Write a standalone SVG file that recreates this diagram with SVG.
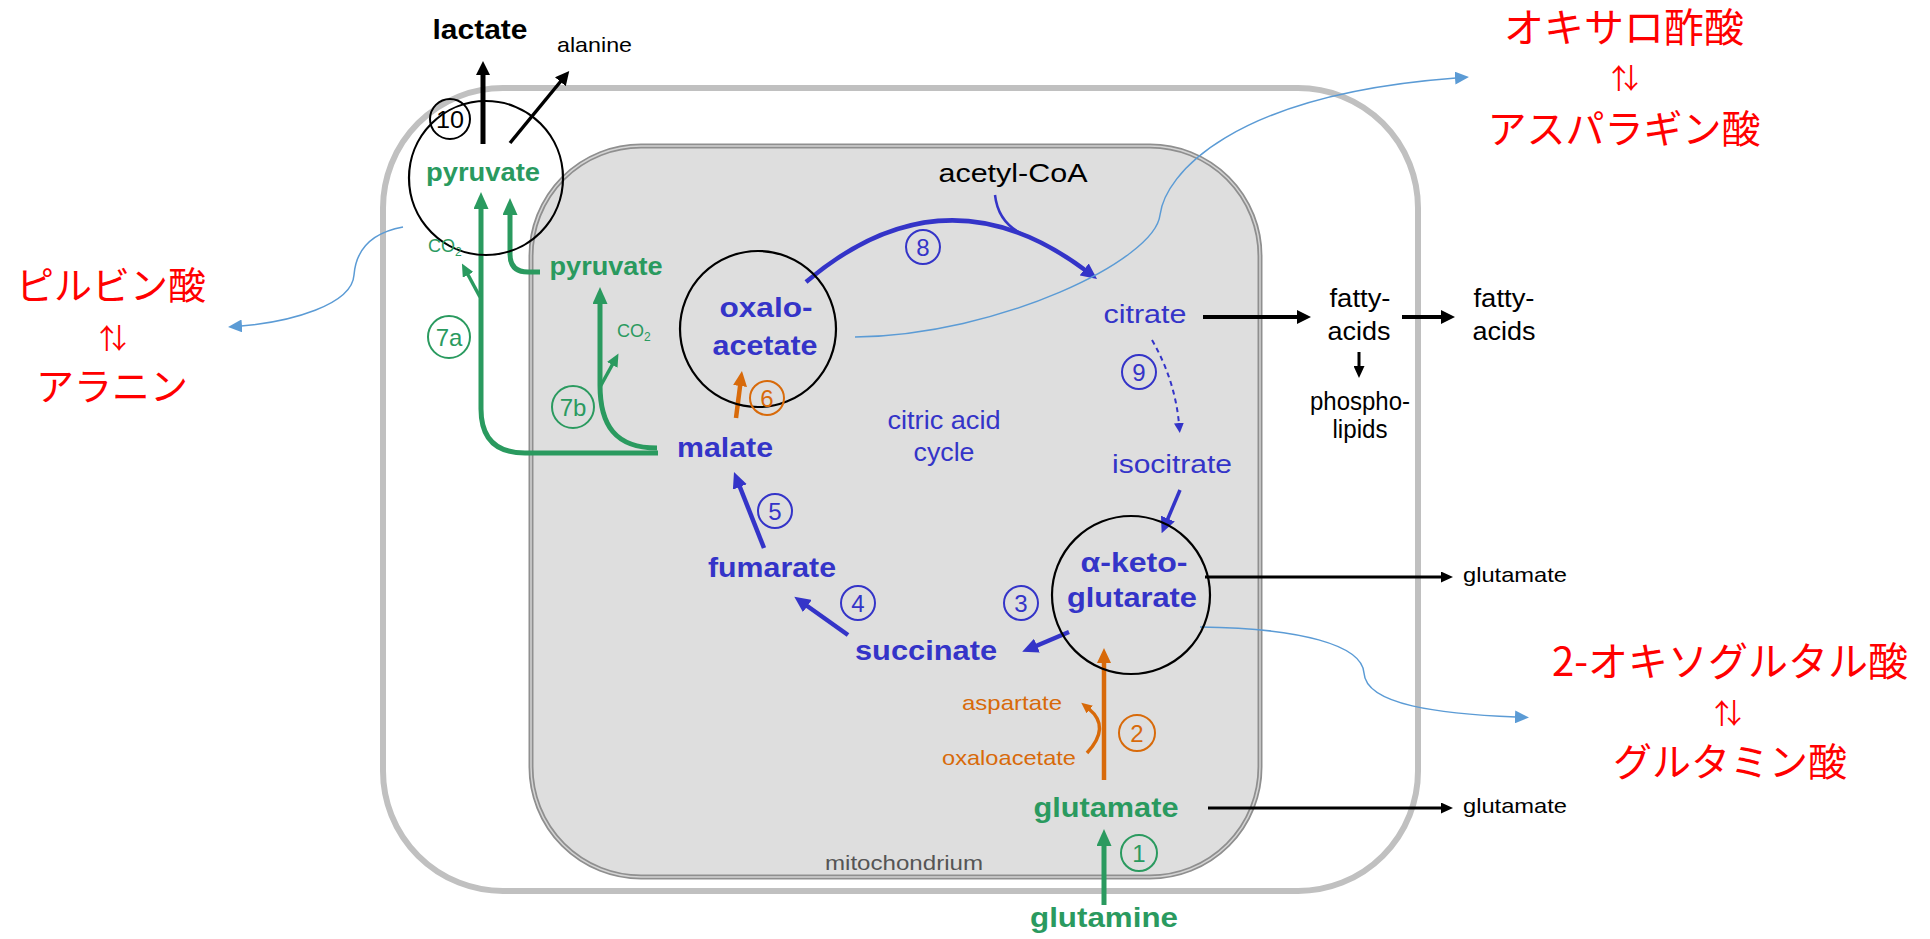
<svg xmlns="http://www.w3.org/2000/svg" width="1930" height="939" viewBox="0 0 1930 939">
<defs>
<style>
text{font-family:"Liberation Sans",Arial,sans-serif}
.k{fill:#000}
.g{fill:#2a9a5f}
.b{fill:#3434c8}
.o{fill:#d86a0a}
.bold{font-weight:bold}
.jp{font-family:"Noto Sans CJK JP",sans-serif;fill:#ff0000;text-anchor:middle}
.num{font-size:24px;text-anchor:middle}
.cg{fill:none;stroke:#2a9a5f;stroke-width:2}
.cb{fill:none;stroke:#3434c8;stroke-width:2}
.co{fill:none;stroke:#d86a0a;stroke-width:2}
.ck{fill:none;stroke:#000;stroke-width:2}
.big{fill:none;stroke:#000;stroke-width:2.2}
.lg{fill:none;stroke:#2a9a5f;stroke-width:5}
.lb{fill:none;stroke:#3434c8;stroke-width:4.5}
.lo{fill:none;stroke:#d86a0a;stroke-width:4.5}
.lk{fill:none;stroke:#000;stroke-width:3}
.ll{fill:none;stroke:#5b9bd5;stroke-width:1.5}
.m{text-anchor:middle}
</style>
<marker id="ahG" markerUnits="userSpaceOnUse" markerWidth="17" markerHeight="15" refX="1" refY="7.5" orient="auto"><path d="M0,0 L17,7.5 L0,15 z" fill="#2a9a5f"/></marker>
<marker id="ahGs" markerUnits="userSpaceOnUse" markerWidth="13" markerHeight="12" refX="1" refY="6" orient="auto"><path d="M0,0 L13,6 L0,12 z" fill="#2a9a5f"/></marker>
<marker id="ahB" markerUnits="userSpaceOnUse" markerWidth="16" markerHeight="15" refX="1" refY="7.5" orient="auto"><path d="M0,0 L16,7.5 L0,15 z" fill="#3434c8"/></marker>
<marker id="ahBs" markerUnits="userSpaceOnUse" markerWidth="10" markerHeight="10" refX="1" refY="5" orient="auto"><path d="M0,0 L10,5 L0,10 z" fill="#3434c8"/></marker>
<marker id="ahO" markerUnits="userSpaceOnUse" markerWidth="15" markerHeight="14" refX="1" refY="7" orient="auto"><path d="M0,0 L15,7 L0,14 z" fill="#d86a0a"/></marker>
<marker id="ahOs" markerUnits="userSpaceOnUse" markerWidth="11" markerHeight="10" refX="1" refY="5" orient="auto"><path d="M0,0 L11,5 L0,10 z" fill="#d86a0a"/></marker>
<marker id="ahK" markerUnits="userSpaceOnUse" markerWidth="14" markerHeight="14" refX="1" refY="7" orient="auto"><path d="M0,0 L14,7 L0,14 z" fill="#000"/></marker>
<marker id="ahKs" markerUnits="userSpaceOnUse" markerWidth="12" markerHeight="11" refX="1" refY="5.5" orient="auto"><path d="M0,0 L12,5.5 L0,11 z" fill="#000"/></marker>
<marker id="ahL" markerUnits="userSpaceOnUse" markerWidth="14" markerHeight="13" refX="1" refY="6.5" orient="auto"><path d="M0,0 L14,6.5 L0,13 z" fill="#5b9bd5"/></marker>
</defs>
<rect width="1930" height="939" fill="#fff"/>

<g id="cell">
<rect x="383" y="88" width="1035" height="803" rx="120" ry="120" fill="none" stroke="#c0c0c0" stroke-width="6"/>
</g>
<g id="mitochondrion">
<rect x="531" y="146" width="729" height="731" rx="110" ry="110" fill="#dedede" stroke="#8f8f8f" stroke-width="5"/>
<rect x="531" y="146" width="729" height="731" rx="110" ry="110" fill="none" stroke="#d4d4d4" stroke-width="1.5"/>
<text x="904" y="870" font-size="21" fill="#555" class="m" textLength="158" lengthAdjust="spacingAndGlyphs">mitochondrium</text>
</g>

<g id="connectors">
<line x1="483" y1="144" x2="483" y2="74" stroke="#000" stroke-width="5" marker-end="url(#ahK)"/>
<line x1="510" y1="143" x2="561" y2="81" stroke="#000" stroke-width="3.5" marker-end="url(#ahK)"/>
<line x1="1203" y1="317" x2="1298" y2="317" stroke="#000" stroke-width="4" marker-end="url(#ahK)"/>
<line x1="1402" y1="317" x2="1442" y2="317" stroke="#000" stroke-width="4" marker-end="url(#ahK)"/>
<line x1="1359" y1="352" x2="1359" y2="367" stroke="#000" stroke-width="3" marker-end="url(#ahKs)"/>
<line x1="1205" y1="577" x2="1442" y2="577" class="lk" marker-end="url(#ahKs)"/>
<line x1="1208" y1="808" x2="1442" y2="808" class="lk" marker-end="url(#ahKs)"/>
<path d="M658 453 H525 Q481 453 481 409 V208" class="lg" marker-end="url(#ahG)"/>
<path d="M540 272 H528 Q510 272 510 254 V214" class="lg" marker-end="url(#ahG)"/>
<path d="M657 448 C615 448 600 425 600 385 V303" class="lg" marker-end="url(#ahG)"/>
<line x1="480" y1="297" x2="467.6" y2="274" stroke="#2a9a5f" stroke-width="3.5" marker-end="url(#ahGs)"/>
<line x1="600" y1="387" x2="612.7" y2="364" stroke="#2a9a5f" stroke-width="3.5" marker-end="url(#ahGs)"/>
<line x1="1104" y1="905" x2="1104" y2="845" class="lg" marker-end="url(#ahG)"/>
<line x1="1104" y1="780" x2="1104" y2="662" class="lo" marker-end="url(#ahO)"/>
<path d="M1087 753 Q1111 727 1089 709" fill="none" stroke="#d86a0a" stroke-width="3.5" marker-end="url(#ahOs)"/>
<line x1="736" y1="418" x2="740.2" y2="385" class="lo" marker-end="url(#ahO)"/>
<path d="M806 282 Q944 165 1085 270" class="lb" marker-end="url(#ahB)"/>
<path d="M995 195 Q998 222 1022 234" fill="none" stroke="#3434c8" stroke-width="2.5"/>
<path d="M1152 340 Q1175 380 1179 424" fill="none" stroke="#3434c8" stroke-width="2" stroke-dasharray="5 4" marker-end="url(#ahBs)"/>
<line x1="1180" y1="490" x2="1167.5" y2="519.5" stroke="#3434c8" stroke-width="3.5" marker-end="url(#ahB)"/>
<line x1="1069" y1="632" x2="1036" y2="646" class="lb" marker-end="url(#ahB)"/>
<line x1="848" y1="635" x2="806.5" y2="605.5" class="lb" marker-end="url(#ahB)"/>
<line x1="764" y1="548" x2="739.5" y2="486" class="lb" marker-end="url(#ahB)"/>
<path d="M403 227 C370 233 356 250 354 275 C352 305 290 322 241 326" class="ll" marker-end="url(#ahL)"/>
<path d="M855 337 C1000 335 1155 260 1160 215 C1165 175 1230 95 1456 78" class="ll" marker-end="url(#ahL)"/>
<path d="M1200 627 C1300 628 1362 645 1364 673 C1366 705 1440 714 1516 717" class="ll" marker-end="url(#ahL)"/>
</g>

<g id="highlight-circles">
<circle cx="486" cy="178" r="77" class="big"/>
<circle cx="758" cy="329" r="78" class="big"/>
<circle cx="1131" cy="595" r="79" class="big"/>
</g>

<g id="lactate"><text x="480" y="39" font-size="28" class="k bold m" textLength="95" lengthAdjust="spacingAndGlyphs">lactate</text></g>
<g id="alanine"><text x="557" y="52" font-size="21" class="k" textLength="75" lengthAdjust="spacingAndGlyphs">alanine</text></g>
<g id="step10"><circle cx="450" cy="119" r="20" class="ck"/><text x="450" y="128" class="num k" textLength="28" lengthAdjust="spacingAndGlyphs">10</text></g>

<g id="pyruvate-cyto"><text x="483" y="181" font-size="25" class="g bold m" textLength="114" lengthAdjust="spacingAndGlyphs">pyruvate</text></g>
<g id="pyruvate-mito"><text x="606" y="275" font-size="25" class="g bold m" textLength="113" lengthAdjust="spacingAndGlyphs">pyruvate</text></g>
<g id="co2-7a"><text x="428" y="252" font-size="18" class="g">CO<tspan font-size="12" dy="4">2</tspan></text></g>
<g id="co2-7b"><text x="617" y="337" font-size="18" class="g">CO<tspan font-size="12" dy="4">2</tspan></text></g>
<g id="step7a"><circle cx="449" cy="337" r="21" class="cg"/><text x="449" y="346" class="num g">7a</text></g>
<g id="step7b"><circle cx="573" cy="407" r="21" class="cg"/><text x="573" y="416" class="num g">7b</text></g>

<g id="malate"><text x="725" y="457" font-size="27" class="b bold m" textLength="96" lengthAdjust="spacingAndGlyphs">malate</text></g>
<g id="oxaloacetate">
<text x="766" y="317" font-size="27" class="b bold m" textLength="93" lengthAdjust="spacingAndGlyphs">oxalo-</text>
<text x="765" y="355" font-size="27" class="b bold m" textLength="105" lengthAdjust="spacingAndGlyphs">acetate</text>
</g>
<g id="step6"><circle cx="767" cy="398" r="17" class="co"/><text x="767" y="407" class="num o">6</text></g>
<g id="acetyl-coa"><text x="1013" y="182" font-size="26" class="k m" textLength="149" lengthAdjust="spacingAndGlyphs">acetyl-CoA</text></g>
<g id="step8"><circle cx="923" cy="247" r="17" class="cb"/><text x="923" y="256" class="num b">8</text></g>
<g id="citrate"><text x="1145" y="323" font-size="26" class="b m" textLength="83" lengthAdjust="spacingAndGlyphs">citrate</text></g>
<g id="step9"><circle cx="1139" cy="372" r="17" class="cb"/><text x="1139" y="381" class="num b">9</text></g>
<g id="isocitrate"><text x="1172" y="473" font-size="26" class="b m" textLength="120" lengthAdjust="spacingAndGlyphs">isocitrate</text></g>
<g id="cycle-label">
<text x="944" y="429" font-size="25" class="b m" textLength="113" lengthAdjust="spacingAndGlyphs">citric acid</text>
<text x="944" y="461" font-size="25" class="b m" textLength="61" lengthAdjust="spacingAndGlyphs">cycle</text>
</g>
<g id="akg">
<text x="1134" y="572" font-size="27" class="b bold m" textLength="107" lengthAdjust="spacingAndGlyphs">α-keto-</text>
<text x="1132" y="607" font-size="27" class="b bold m" textLength="130" lengthAdjust="spacingAndGlyphs">glutarate</text>
</g>
<g id="step3"><circle cx="1021" cy="603" r="17" class="cb"/><text x="1021" y="612" class="num b">3</text></g>
<g id="succinate"><text x="926" y="660" font-size="27" class="b bold m" textLength="142" lengthAdjust="spacingAndGlyphs">succinate</text></g>
<g id="step4"><circle cx="858" cy="603" r="17" class="cb"/><text x="858" y="612" class="num b">4</text></g>
<g id="fumarate"><text x="772" y="577" font-size="27" class="b bold m" textLength="128" lengthAdjust="spacingAndGlyphs">fumarate</text></g>
<g id="step5"><circle cx="775" cy="511" r="17" class="cb"/><text x="775" y="520" class="num b">5</text></g>

<g id="aspartate"><text x="1012" y="710" font-size="21" class="o m" textLength="100" lengthAdjust="spacingAndGlyphs">aspartate</text></g>
<g id="oxaloacetate-2"><text x="1009" y="765" font-size="21" class="o m" textLength="134" lengthAdjust="spacingAndGlyphs">oxaloacetate</text></g>
<g id="step2"><circle cx="1137" cy="733" r="18" class="co"/><text x="1137" y="742" class="num o">2</text></g>
<g id="glutamate-mito"><text x="1106" y="817" font-size="27" class="g bold m" textLength="145" lengthAdjust="spacingAndGlyphs">glutamate</text></g>
<g id="step1"><circle cx="1139" cy="853" r="18" class="cg"/><text x="1139" y="862" class="num g">1</text></g>
<g id="glutamine"><text x="1104" y="927" font-size="27" class="g bold m" textLength="148" lengthAdjust="spacingAndGlyphs">glutamine</text></g>

<g id="fatty-acids-1">
<text x="1360" y="307" font-size="25" class="k m" textLength="61" lengthAdjust="spacingAndGlyphs">fatty-</text>
<text x="1359" y="340" font-size="25" class="k m" textLength="63" lengthAdjust="spacingAndGlyphs">acids</text>
</g>
<g id="fatty-acids-2">
<text x="1504" y="307" font-size="25" class="k m" textLength="61" lengthAdjust="spacingAndGlyphs">fatty-</text>
<text x="1504" y="340" font-size="25" class="k m" textLength="63" lengthAdjust="spacingAndGlyphs">acids</text>
</g>
<g id="phospholipids">
<text x="1360" y="410" font-size="25" class="k m" textLength="100" lengthAdjust="spacingAndGlyphs">phospho-</text>
<text x="1360" y="438" font-size="25" class="k m" textLength="55" lengthAdjust="spacingAndGlyphs">lipids</text>
</g>
<g id="glutamate-out-1"><text x="1463" y="582" font-size="21" class="k" textLength="104" lengthAdjust="spacingAndGlyphs">glutamate</text></g>
<g id="glutamate-out-2"><text x="1463" y="813" font-size="21" class="k" textLength="104" lengthAdjust="spacingAndGlyphs">glutamate</text></g>

<g id="note-pyruvate">
<text x="111" y="299" font-size="38" class="jp">ピルビン酸</text>
<text x="113" y="349" font-size="28" class="jp">⇅</text>
<text x="112" y="400" font-size="38" class="jp">アラニン</text>
</g>
<g id="note-oxaloacetate">
<text x="1624" y="42" font-size="40" class="jp">オキサロ酢酸</text>
<text x="1625" y="89" font-size="28" class="jp">⇅</text>
<text x="1624" y="143" font-size="39" class="jp">アスパラギン酸</text>
</g>
<g id="note-akg">
<text x="1730" y="676" font-size="40" class="jp">2-オキソグルタル酸</text>
<text x="1728" y="724" font-size="28" class="jp">⇅</text>
<text x="1730" y="776" font-size="39" class="jp">グルタミン酸</text>
</g>
</svg>
